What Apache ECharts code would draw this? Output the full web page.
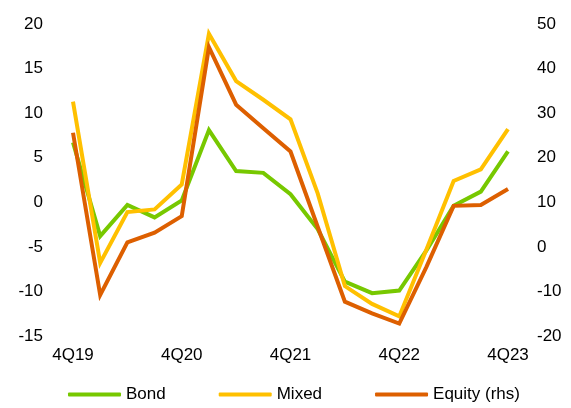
<!DOCTYPE html>
<html>
<head>
<meta charset="utf-8">
<script src="https://cdn.jsdelivr.net/npm/echarts@6/dist/echarts.min.js"></script>
<style>
html,body{margin:0;padding:0;background:#fff;}
#chart{width:571px;height:408px;}
</style>
</head>
<body>
<div id="chart"></div>
<script>
const categories = ['4Q19','1Q20','2Q20','3Q20','4Q20','1Q21','2Q21','3Q21','4Q21','1Q22','2Q22','3Q22','4Q22','1Q23','2Q23','3Q23','4Q23'];
const bond   = [6.7, -3.8, -0.3, -1.7, 0.2, 8.1, 3.5, 3.3, 0.9, -3.0, -8.9, -10.2, -9.9, -5.4, -0.4, 1.2, 5.7];
const mixed  = [11.3, -6.8, -1.1, -0.8, 2.0, 18.9, 13.6, 11.5, 9.3, 1.0, -9.4, -11.4, -12.8, -5.3, 2.4, 3.7, 8.2];
const equity = [25.6, -10.8, 1.0, 3.2, 6.9, 44.8, 31.9, 26.6, 21.4, 4.5, -12.3, -14.9, -17.2, -4.5, 9.2, 9.4, 13.0];
const leftTicks = {min: -15, max: 20, interval: 5};
const rightTicks = {min: -20, max: 50, interval: 10};

const FONT = 'Liberation Sans, Arial, sans-serif';
const txt = {fontFamily: FONT, fontSize: 17, color: '#000'};
const chart = echarts.init(document.getElementById('chart'), null, {renderer: 'canvas'});
function lineSeries(name, data, color, yIdx) {
  return {
    name: name, type: 'line', data: data, yAxisIndex: yIdx,
    symbol: 'none', smooth: false,
    lineStyle: {color: color, width: 4, join: 'miter'},
    itemStyle: {color: color},
    emphasis: {disabled: true}
  };
}
chart.setOption({
  animation: false,
  grid: {left: 73, right: 63, top: 24, bottom: 72, containLabel: false},
  legend: {
    left: 63, top: 381,
    itemWidth: 53, itemHeight: 4, itemGap: 53,
    icon: 'roundRect',
    textStyle: txt,
    data: ['Bond', 'Mixed', 'Equity (rhs)']
  },
  xAxis: {
    type: 'category', data: categories, boundaryGap: false,
    axisLine: {show: false}, axisTick: {show: false}, splitLine: {show: false},
    axisLabel: Object.assign({interval: 3, margin: 11}, txt)
  },
  yAxis: [
    Object.assign({
      type: 'value', position: 'left',
      axisLine: {show: false}, axisTick: {show: false}, splitLine: {show: false},
      axisLabel: Object.assign({margin: 30}, txt)
    }, leftTicks),
    Object.assign({
      type: 'value', position: 'right',
      axisLine: {show: false}, axisTick: {show: false}, splitLine: {show: false},
      axisLabel: Object.assign({margin: 29}, txt)
    }, rightTicks)
  ],
  series: [
    lineSeries('Bond', bond, '#77C800', 0),
    lineSeries('Mixed', mixed, '#FFC000', 0),
    lineSeries('Equity (rhs)', equity, '#DD5F00', 1)
  ]
});
</script>
</body>
</html>
